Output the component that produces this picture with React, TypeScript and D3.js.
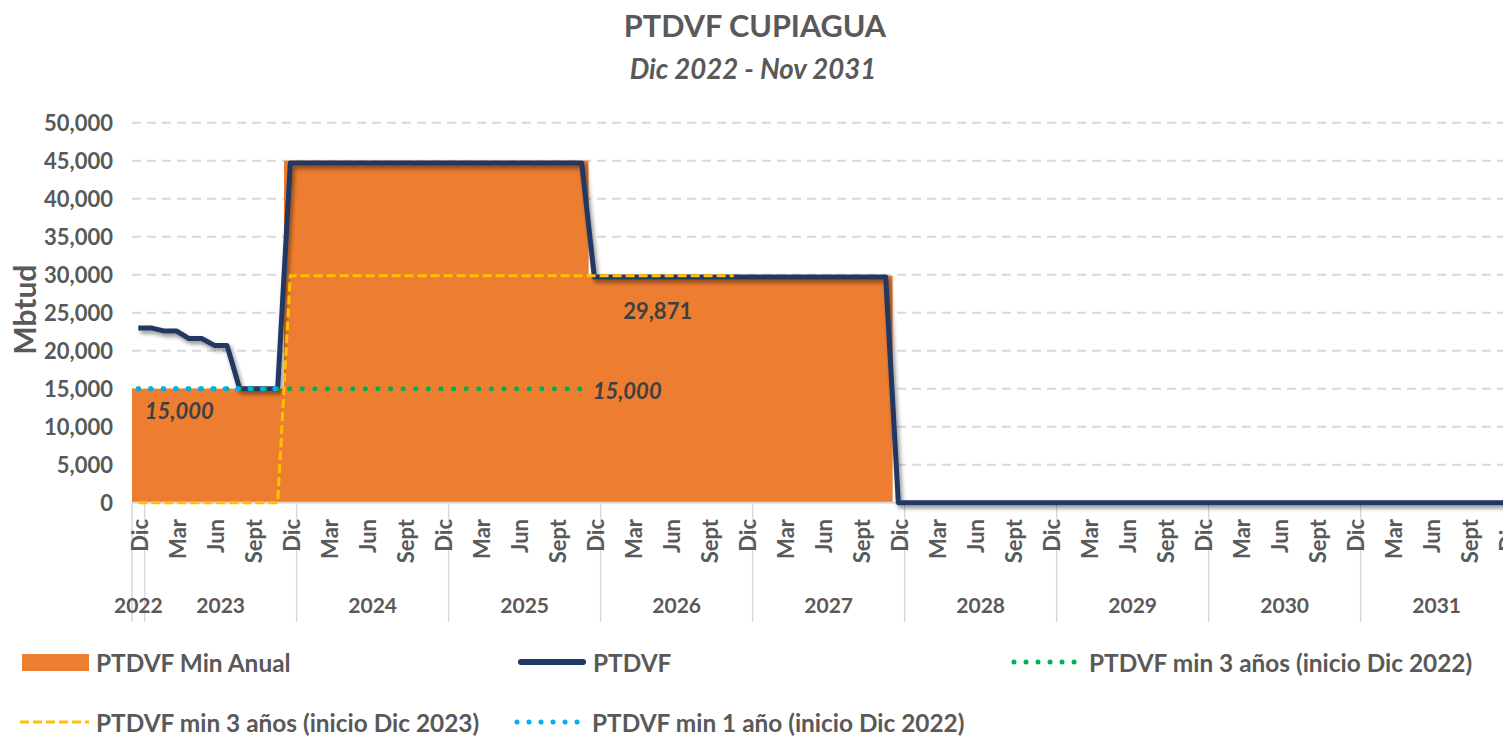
import * as d3 from 'd3';
import React from 'react';

// categories: Dic 2022 .. Dic 2031 (monthly)
const years = [2022, 2023, 2024, 2025, 2026, 2027, 2028, 2029, 2030, 2031];
const monthNames = ['Ene', 'Feb', 'Mar', 'Abr', 'May', 'Jun', 'Jul', 'Ago', 'Sept', 'Oct', 'Nov', 'Dic'];
const shownMonths = ['Dic', 'Mar', 'Jun', 'Sept'];
const yTicks = [0, 5000, 10000, 15000, 20000, 25000, 30000, 35000, 40000, 45000, 50000];

// PTDVF Min Anual (columns)
const minAnual = [
  15000,
  15000, 15000, 15000, 15000, 15000, 15000, 15000, 15000, 15000, 15000, 15000, 45000,
  45000, 45000, 45000, 45000, 45000, 45000, 45000, 45000, 45000, 45000, 45000, 45000,
  45000, 45000, 45000, 45000, 45000, 45000, 45000, 45000, 45000, 45000, 45000, 29871,
  29871, 29871, 29871, 29871, 29871, 29871, 29871, 29871, 29871, 29871, 29871, 29871,
  29871, 29871, 29871, 29871, 29871, 29871, 29871, 29871, 29871, 29871, 29871, 0,
  0, 0, 0, 0, 0, 0, 0, 0, 0, 0, 0, 0,
  0, 0, 0, 0, 0, 0, 0, 0, 0, 0, 0, 0,
  0, 0, 0, 0, 0, 0, 0, 0, 0, 0, 0, 0,
  0, 0, 0, 0, 0, 0, 0, 0, 0, 0, 0, 0,
];

// PTDVF
const ptdvf = [
  23000,
  23000, 22600, 22600, 21600, 21600, 20700, 20700, 15000, 15000, 15000, 15000, 44700,
  44700, 44700, 44700, 44700, 44700, 44700, 44700, 44700, 44700, 44700, 44700, 44700,
  44700, 44700, 44700, 44700, 44700, 44700, 44700, 44700, 44700, 44700, 44700, 29700,
  29700, 29700, 29700, 29700, 29700, 29700, 29700, 29700, 29700, 29700, 29700, 29700,
  29700, 29700, 29700, 29700, 29700, 29700, 29700, 29700, 29700, 29700, 29700, 0,
  0, 0, 0, 0, 0, 0, 0, 0, 0, 0, 0, 0,
  0, 0, 0, 0, 0, 0, 0, 0, 0, 0, 0, 0,
  0, 0, 0, 0, 0, 0, 0, 0, 0, 0, 0, 0,
  0, 0, 0, 0, 0, 0, 0, 0, 0, 0, 0, 0,
];

// PTDVF min 3 años (inicio Dic 2022)
const min3Dic22 = [
  15000,
  15000, 15000, 15000, 15000, 15000, 15000, 15000, 15000, 15000, 15000, 15000, 15000,
  15000, 15000, 15000, 15000, 15000, 15000, 15000, 15000, 15000, 15000, 15000, 15000,
  15000, 15000, 15000, 15000, 15000, 15000, 15000, 15000, 15000, 15000, 15000,
];

// PTDVF min 3 años (inicio Dic 2023)
const min3Dic23 = [
  0,
  0, 0, 0, 0, 0, 0, 0, 0, 0, 0, 0, 29871,
  29871, 29871, 29871, 29871, 29871, 29871, 29871, 29871, 29871, 29871, 29871, 29871,
  29871, 29871, 29871, 29871, 29871, 29871, 29871, 29871, 29871, 29871, 29871, 29871,
  29871, 29871, 29871, 29871, 29871, 29871, 29871, 29871, 29871, 29871, 29871,
];

// PTDVF min 1 año (inicio Dic 2022)
const min1Dic22 = [
  15000,
  15000, 15000, 15000, 15000, 15000, 15000, 15000, 15000, 15000, 15000, 15000,
];

const categories: { key: string; year: number; month: string }[] = [];
years.forEach((yr) => {
  monthNames.forEach((m, i) => {
    if (yr === 2022 && i < 11) return;
    categories.push({ key: yr + '-' + (i + 1), year: yr, month: m });
  });
});

const FONT = 'Lato, "Noto Sans", sans-serif';
const GRAY = '#595959';
const ORANGE = '#ED7D31';
const NAVY = '#203864';
const GREEN = '#00B050';
const YELLOW = '#FFC000';
const BLUE = '#00B0F0';

export default function App() {
  const W = 1503;
  const H = 738;
  const left = 132;
  const step = 12.667;
  const x = d3.scaleBand<string>()
    .domain(categories.map((c) => c.key))
    .range([left, left + step * categories.length])
    .padding(0);
  const y = d3.scaleLinear().domain([0, 50000]).range([502.7, 122.7]);
  const cx = (i: number) => (x(categories[i].key) as number) + x.bandwidth() / 2;
  const fmt = d3.format(',');

  const line = d3.line<number | null>()
    .defined((d) => d != null)
    .x((d, i) => cx(i))
    .y((d) => y(d as number));

  const groups = years.map((yr) => {
    const idx = categories.map((c, i) => (c.year === yr ? i : -1)).filter((i) => i >= 0);
    const x0 = x(categories[idx[0]].key) as number;
    const x1 = (x(categories[idx[idx.length - 1]].key) as number) + x.bandwidth();
    return { yr, x0, x1 };
  });

  const legendItem = (kind: string, color: string, x0: number, x1: number, yy: number, label: string) => (
    <g key={label}>
      {kind === 'rect' && <rect x={x0} y={yy - 8} width={x1 - x0} height={17} fill={color} />}
      {kind === 'solid' && <line x1={x0 + 3} x2={x1 - 3} y1={yy} y2={yy} stroke={color} strokeWidth={6} strokeLinecap="round" />}
      {kind === 'dash' && <line x1={x0} x2={x1} y1={yy} y2={yy} stroke={color} strokeWidth={3} strokeDasharray="9 4" />}
      {kind === 'dot' && <line x1={x0 + 2} x2={x1} y1={yy} y2={yy} stroke={color} strokeWidth={5} strokeLinecap="round" strokeDasharray="0.01 12" />}
      <text x={x1 + 7} y={yy} dominantBaseline="central" fontFamily={FONT} fontWeight={700} fontSize={24.4} fill={GRAY}>{label}</text>
    </g>
  );

  return (
    <svg width={W} height={H} style={{ position: 'absolute', left: 0, top: 0, background: '#fff' }}>
      <defs>
        <filter id="shadow" x="-5%" y="-5%" width="110%" height="115%">
          <feDropShadow dx="2" dy="3" stdDeviation="2" floodColor="#000" floodOpacity="0.45" />
        </filter>
      </defs>
      <rect width={W} height={H} fill="#fff" />

      <text x={755} y={25} textAnchor="middle" dominantBaseline="central" fontFamily={FONT} fontWeight={700} fontSize={30.6} fill={GRAY}>PTDVF CUPIAGUA</text>
      <text x={753} y={68} textAnchor="middle" dominantBaseline="central" fontFamily={FONT} fontWeight={700} fontStyle="italic" fontSize={27.6} fill={GRAY}>Dic 2022 - Nov 2031</text>

      {/* gridlines */}
      {yTicks.filter((t) => t > 0).map((t) => (
        <line key={t} x1={left} x2={W} y1={y(t)} y2={y(t)} stroke="#d9d9d9" strokeWidth={2} strokeDasharray="9 6" />
      ))}
      {yTicks.map((t) => (
        <text key={t} x={113} y={y(t)} textAnchor="end" dominantBaseline="central" fontFamily={FONT} fontWeight={700} fontSize={22} fill={GRAY}>{fmt(t)}</text>
      ))}
      <text transform={`translate(24,${y(25000) - 3}) rotate(-90)`} textAnchor="middle" dominantBaseline="central" fontFamily={FONT} fontWeight={700} fontSize={30} fill={GRAY}>Mbtud</text>

      {/* PTDVF Min Anual columns */}
      {minAnual.map((v, i) => v > 0 && (
        <rect key={i} x={x(categories[i].key)} y={y(v)} width={x.bandwidth() + 0.6} height={y(0) - y(v)} fill={ORANGE} />
      ))}

      {/* axis */}
      <line x1={left} x2={W} y1={y(0)} y2={y(0)} stroke="#d9d9d9" strokeWidth={2} />
      {[left, ...groups.slice(1).map((g) => g.x0)].map((gx) => (
        <line key={gx} x1={gx} x2={gx} y1={y(0)} y2={622} stroke="#d9d9d9" strokeWidth={1.5} />
      ))}
      {categories.map((c, i) => shownMonths.includes(c.month) && (
        <text key={c.key} transform={`translate(${cx(i) + 1},519) rotate(-90)`} textAnchor="end" dominantBaseline="central" fontFamily={FONT} fontWeight={700} fontSize={22} fill={GRAY}>{c.month}</text>
      ))}
      {groups.map((g) => (
        <text key={g.yr} x={(g.x0 + g.x1) / 2} y={604} textAnchor="middle" dominantBaseline="central" fontFamily={FONT} fontWeight={700} fontSize={21} fill={GRAY}>{g.yr}</text>
      ))}

      {/* lines */}
      <path d={line(ptdvf) || ''} fill="none" stroke={NAVY} strokeWidth={5} strokeLinejoin="round" filter="url(#shadow)" />
      <path d={line(min3Dic23) || ''} fill="none" stroke={YELLOW} strokeWidth={3} strokeDasharray="9 4" />
      <path d={line(min3Dic22) || ''} fill="none" stroke={GREEN} strokeWidth={5} strokeLinecap="round" strokeDasharray="0.01 12.6" />
      <path d={line(min1Dic22) || ''} fill="none" stroke={BLUE} strokeWidth={5} strokeLinecap="round" strokeDasharray="0.01 12.4" />

      {/* data labels */}
      <text x={cx(3) + 3} y={y(min1Dic22[3]) + 22} textAnchor="middle" dominantBaseline="central" fontFamily={FONT} fontWeight={700} fontStyle="italic" fontSize={22} fill="#404040">{fmt(min1Dic22[3])}</text>
      <text x={cx(min3Dic22.length - 1) + 11} y={y(min3Dic22[min3Dic22.length - 1]) + 2} dominantBaseline="central" fontFamily={FONT} fontWeight={700} fontStyle="italic" fontSize={22} fill="#404040">{fmt(min3Dic22[min3Dic22.length - 1])}</text>
      <text x={cx(41)} y={y(minAnual[41]) + 35} textAnchor="middle" dominantBaseline="central" fontFamily={FONT} fontWeight={700} fontSize={22} fill="#404040">{fmt(minAnual[41])}</text>

      {/* legend */}
      {legendItem('rect', ORANGE, 22, 89, 662, 'PTDVF Min Anual')}
      {legendItem('solid', NAVY, 518, 586, 662, 'PTDVF')}
      {legendItem('dot', GREEN, 1012, 1082, 662, 'PTDVF min 3 años (inicio Dic 2022)')}
      {legendItem('dash', YELLOW, 20, 89, 722, 'PTDVF min 3 años (inicio Dic 2023)')}
      {legendItem('dot', BLUE, 515, 585, 722, 'PTDVF min 1 año (inicio Dic 2022)')}
    </svg>
  );
}
